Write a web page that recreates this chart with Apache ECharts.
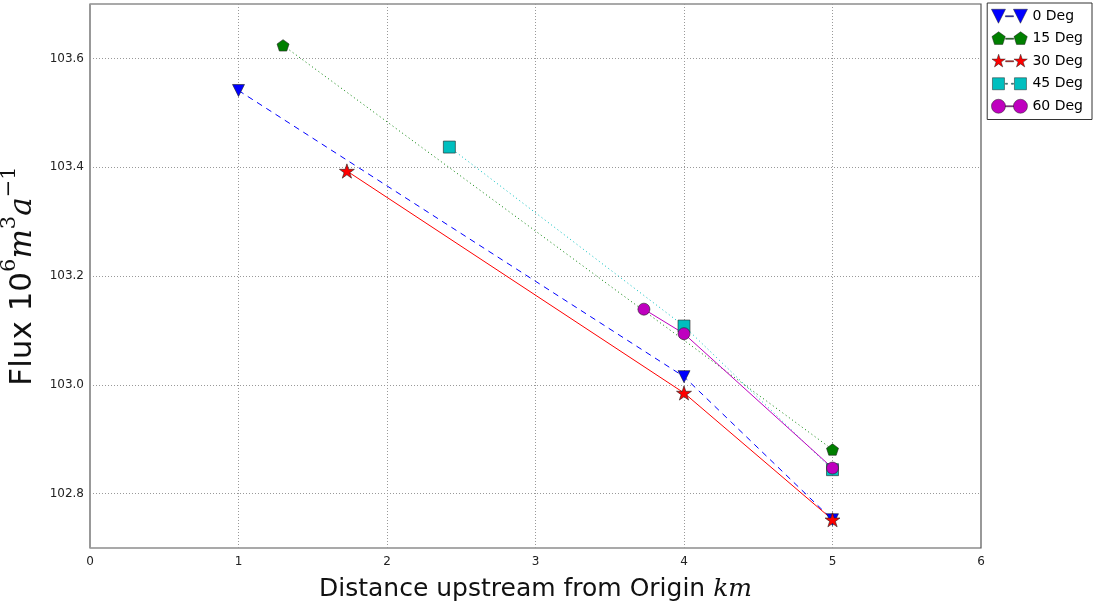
<!DOCTYPE html>
<html>
<head>
<meta charset="utf-8">
<script src="https://cdn.jsdelivr.net/npm/echarts@6/dist/echarts.min.js"></script>
<style>
  *{margin:0;padding:0;}
  body{background:#fff;}
  #main{width:1094px;height:603px;}
</style>
</head>
<body>
<div id="main"></div>
<script type="text/javascript">
// values
var xTicks = [0, 1, 2, 3, 4, 5, 6];
var yTicks = [102.8, 103.0, 103.2, 103.4, 103.6];

var names = ['0 Deg', '15 Deg', '30 Deg', '45 Deg', '60 Deg'];
var x0 = [1, 4, 5],          y0 = [103.541, 103.015, 102.752];
var x15 = [1.3, 5],          y15 = [103.624, 102.881];
var x30 = [1.73, 4, 5],      y30 = [103.393, 102.985, 102.752];
var x45 = [2.42, 4, 5],      y45 = [103.437, 103.108, 102.844];
var x60 = [3.73, 4, 5],      y60 = [103.139, 103.094, 102.847];

function pairs(xs, ys) {
    return xs.map(function (x, i) { return [x, ys[i]]; });
}

var triDown = 'path://M0 0 L100 0 L50 100 Z';
var pentagon = 'path://M50 0 L97.55 34.55 L79.39 90.45 L20.61 90.45 L2.45 34.55 Z';
var star = 'path://M50 0 L61.23 34.55 L97.55 34.55 L68.16 55.9 L79.39 90.45 L50 69.1 L20.61 90.45 L31.84 55.9 L2.45 34.55 L38.77 34.55 Z';

// legend icons: marker - line - marker, like matplotlib's numpoints=2
var bar = ' M14 6.5 L22 6.5 L22 7.5 L14 7.5 Z';
var legTri = 'path://M0 0 L14 0 L7 14 Z M22 0 L36 0 L29 14 Z' + bar;
var legPent = 'path://M7 0 L13.66 4.84 L11.11 12.66 L2.89 12.66 L0.34 4.84 Z M29 0 L35.66 4.84 L33.11 12.66 L24.89 12.66 L22.34 4.84 Z M14 6.5 L22 6.5 L22 7.5 L14 7.5 Z M0 14 L0.01 14 Z';
var legStar = 'path://M7 0 L8.57 4.84 L13.66 4.84 L9.54 7.83 L11.11 12.66 L7 9.67 L2.89 12.66 L4.46 7.83 L0.34 4.84 L5.43 4.84 Z' +
    ' M29 0 L30.57 4.84 L35.66 4.84 L31.54 7.83 L33.11 12.66 L29 9.67 L24.89 12.66 L26.46 7.83 L22.34 4.84 L27.43 4.84 Z' + bar + ' M0 14 L0.01 14 Z';
var legRect = 'path://M1 1 L13 1 L13 13 L1 13 Z M23 1 L35 1 L35 13 L23 13 Z M14 6.5 L16 6.5 L16 7.5 L14 7.5 Z M20 6.5 L22 6.5 L22 7.5 L20 7.5 Z M0 0 L0.01 0 Z M36 14 L35.99 14 Z';
var legCirc = 'path://M0 7 A7 7 0 1 1 14 7 A7 7 0 1 1 0 7 Z M22 7 A7 7 0 1 1 36 7 A7 7 0 1 1 22 7 Z' + bar;
var legIcons = [legTri, legPent, legStar, legRect, legCirc];

function mk(name, data, color, symbol, size, lineType) {
    return {
        name: name,
        type: 'line',
        data: data,
        symbol: symbol,
        symbolSize: size,
        symbolKeepAspect: true,
        showAllSymbol: true,
        animation: false,
        lineStyle: { color: color, width: 1, type: lineType },
        itemStyle: { color: color, borderColor: '#222', borderWidth: 0.6 },
        z: 3
    };
}

var font = 'DejaVu Sans';
var myChart = echarts.init(document.getElementById('main'));

myChart.setOption({
    backgroundColor: '#fff',
    textStyle: { fontFamily: font },
    grid: {
        left: 90, right: 113, top: 4, bottom: 55,
        outerBoundsMode: 'none',
        containLabel: false,
        show: true, borderColor: '#555', borderWidth: 1.2
    },
    legend: {
        data: names.map(function (n, i) { return { name: n, icon: legIcons[i] }; }),
        orient: 'vertical',
        right: 2, top: 3,
        backgroundColor: '#fff',
        borderColor: '#333', borderWidth: 1, borderRadius: 0,
        padding: [6, 9, 6, 4],
        itemGap: 8,
        itemWidth: 36, itemHeight: 14,
        itemStyle: { borderWidth: 0.5, borderColor: '#222' },
        textStyle: { fontFamily: font, fontSize: 14, color: '#000' }
    },
    xAxis: {
        type: 'value',
        min: 0, max: 6, interval: 1,
        axisLine: { show: false },
        axisTick: { show: false },
        axisLabel: { fontSize: 12, color: '#222', margin: 8 },
        splitLine: { show: true, lineStyle: { color: '#999', type: [1, 2], width: 1 } },
        name: 'Distance upstream from Origin {i|km}',
        nameLocation: 'middle',
        nameGap: 29,
        nameTextStyle: {
            fontSize: 25, color: '#111', fontFamily: font,
            rich: { i: { fontSize: 25, fontStyle: 'italic', fontFamily: 'DejaVu Serif', color: '#111' } }
        }
    },
    yAxis: {
        type: 'value',
        min: 102.7, max: 103.7,
        axisLine: { show: false },
        axisTick: { show: false, customValues: yTicks },
        axisLabel: {
            customValues: yTicks, fontSize: 12, color: '#222', margin: 6,
            formatter: function (v) { return v.toFixed(1); }
        },
        splitLine: { show: true, lineStyle: { color: '#999', type: [1, 2], width: 1 } },
        name: '{t|Flux 10}{s|6}{i|m}{s|3}{i|a}{s|−1}',
        nameLocation: 'middle',
        nameRotate: 90,
        nameGap: 47,
        nameTextStyle: {
            color: '#111',
            rich: {
                t: { fontSize: 31, fontFamily: font, color: '#111', lineHeight: 40, verticalAlign: 'bottom' },
                i: { fontSize: 31, fontFamily: 'DejaVu Serif', fontStyle: 'italic', color: '#111', lineHeight: 40, verticalAlign: 'bottom' },
                s: { fontSize: 21, fontFamily: 'DejaVu Serif', color: '#111', verticalAlign: 'top', lineHeight: 40 }
            }
        }
    },
    series: [
        mk(names[0], pairs(x0, y0), '#0000ff', triDown, 12, [6, 5]),
        mk(names[1], pairs(x15, y15), '#007f00', pentagon, 12, [1, 3]),
        mk(names[2], pairs(x30, y30), '#ff0000', star, 15, 'solid'),
        mk(names[3], pairs(x45, y45), '#00bfbf', 'rect', 12, [1, 3]),
        mk(names[4], pairs(x60, y60), '#bf00bf', 'circle', 12, 'solid')
    ]
});
</script>
</body>
</html>
